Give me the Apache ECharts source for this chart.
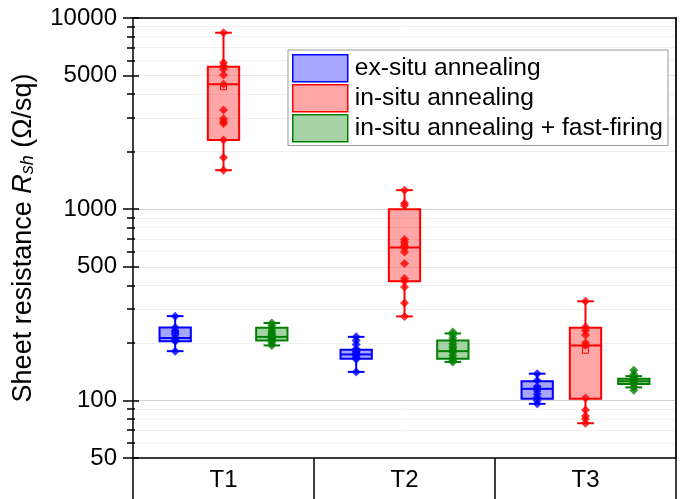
<!DOCTYPE html>
<html><head><meta charset="utf-8">
<script src="https://cdn.jsdelivr.net/npm/echarts@6/dist/echarts.min.js"></script>
<style>html,body{margin:0;padding:0;background:#fff}#c{width:684px;height:499px}</style>
</head><body><div id="c"></div>
<script>
const categories = ['T1', 'T2', 'T3'];
const seriesNames = ['ex-situ annealing', 'in-situ annealing', 'in-situ annealing + fast-firing'];

// box statistics per category: [min, Q1, median, Q3, max]
const exsituBox = [[181, 204, 212, 241, 276], [141, 165, 174, 184, 215], [96, 102, 115, 126, 138]];
const insituBox = [[1600, 2298, 4510, 5560, 8375], [275, 420, 630, 1000, 1258], [76, 102, 194, 240, 330]];
const firingBox = [[194, 206, 215, 240, 254], [159, 165, 181, 206, 224], [117, 122, 126, 130, 134]];

const exsituMean = [225, 180, 115];
const insituMean = [4370, 640, 183];
const firingMean = [222, 190, 127];

// individual measurements per category
const exsituPoints = [
  [276, 241, 231, 223, 212, 207, 204, 181],
  [215, 206, 196, 186, 180, 176, 172, 168, 164, 141],
  [138, 127, 118, 114, 108, 104, 100, 96]
];
const insituPoints = [
  [8375, 5830, 5610, 5390, 5030, 4510, 3300, 2970, 2870, 2810, 2300, 1865, 1600],
  [1258, 1075, 1045, 694, 674, 640, 598, 520, 434, 420, 392, 323, 275],
  [330, 242, 232, 220, 200, 194, 103, 89, 83, 80, 76]
];
const firingPoints = [
  [254, 247, 240, 232, 225, 219, 215, 211, 208, 205, 200, 194],
  [228, 220, 212, 205, 198, 190, 183, 178, 172, 166, 162, 159],
  [144, 137, 133, 130, 127, 125, 122, 118, 113]
];

const yTickLabels = [50, 100, 500, 1000, 5000, 10000];
const yMinorTicks = [60, 70, 80, 90, 200, 300, 400, 600, 700, 800, 900, 2000, 3000, 4000, 6000, 7000, 8000, 9000];

const FONT = '"Liberation Sans", Arial, sans-serif';
const COLORS = ['#0000ff', '#ff0000', '#008000'];
const FILLS = ['rgba(0,0,255,0.35)', 'rgba(255,0,0,0.35)', 'rgba(0,128,0,0.35)'];
const OFFSETS = [-0.267, 0, 0.267];
const BOX_HALF = 0.0865;
const CAP_HALF = 0.046;

const boxes = [exsituBox, insituBox, firingBox];
const means = [exsituMean, insituMean, firingMean];
const points = [exsituPoints, insituPoints, firingPoints];

function boxSeries(k) {
  return {
    type: 'custom', name: seriesNames[k], xAxisIndex: 1, yAxisIndex: 0, z: 3,
    data: boxes[k].map((s, i) => [i].concat(s, [means[k][i]])),
    encode: { x: 0, y: [1, 2, 3, 4, 5] },
    renderItem: function (params, api) {
      const x = api.value(0) + OFFSETS[k];
      const c = COLORS[k];
      const P = v => api.coord([x, v]);
      const pMin = P(api.value(1)), pQ1 = P(api.value(2)), pMed = P(api.value(3)),
            pQ3 = P(api.value(4)), pMax = P(api.value(5)), pMean = P(api.value(6));
      const xl = api.coord([x - BOX_HALF, api.value(3)])[0];
      const xr = api.coord([x + BOX_HALF, api.value(3)])[0];
      const cl = api.coord([x - CAP_HALF, api.value(3)])[0];
      const cr = api.coord([x + CAP_HALF, api.value(3)])[0];
      const xc = pMed[0];
      const ls = { stroke: c, lineWidth: 2 };
      return {
        type: 'group',
        children: [
          { type: 'line', shape: { x1: xc, y1: pQ3[1], x2: xc, y2: pMax[1] }, style: ls },
          { type: 'line', shape: { x1: xc, y1: pQ1[1], x2: xc, y2: pMin[1] }, style: ls },
          { type: 'line', shape: { x1: cl, y1: pMax[1], x2: cr, y2: pMax[1] }, style: ls },
          { type: 'line', shape: { x1: cl, y1: pMin[1], x2: cr, y2: pMin[1] }, style: ls },
          { type: 'rect', shape: { x: xl, y: pQ3[1], width: xr - xl, height: pQ1[1] - pQ3[1] },
            style: { fill: FILLS[k], stroke: c, lineWidth: 2 } },
          { type: 'line', shape: { x1: xl, y1: pMed[1], x2: xr, y2: pMed[1] }, style: ls },
          { type: 'rect', shape: { x: xc - 3, y: pMean[1] - 3, width: 6, height: 6 },
            style: { fill: 'none', stroke: c, lineWidth: 1 } }
        ]
      };
    }
  };
}

function pointSeries(k) {
  const data = [];
  points[k].forEach((arr, i) => arr.forEach(v => data.push([i + OFFSETS[k], v])));
  return {
    type: 'scatter', name: seriesNames[k] + ' points', xAxisIndex: 1, yAxisIndex: 0, z: 4,
    symbol: 'diamond', symbolSize: 9, itemStyle: { color: COLORS[k] }, data: data
  };
}

const logAxisBase = { type: 'log', logBase: 10, min: 50, max: 10000, position: 'left', gridIndex: 0 };
const noLine = { show: false, onZero: false };

const option = {
  animation: false,
  backgroundColor: '#fff',
  textStyle: { fontFamily: FONT },
  grid: { left: 133, right: 8, top: 18, bottom: 41, containLabel: false, outerBoundsMode: 'none' },
  legend: {
    orient: 'vertical', left: 288, top: 50,
    data: seriesNames.map((n, k) => ({ name: n, icon: 'rect',
      itemStyle: { color: FILLS[k], borderColor: COLORS[k], borderWidth: 1.5 } })),
    itemWidth: 55, itemHeight: 27, itemGap: 1.5, padding: [4, 5, 3, 4],
    backgroundColor: '#fff', borderColor: '#999', borderWidth: 1,
    textStyle: { fontSize: 24.6, color: '#000', fontFamily: FONT, padding: [0, 0, 0, 2] },
    selectedMode: false
  },
  xAxis: [
    { type: 'category', data: categories, position: 'bottom', boundaryGap: true,
      axisLine: { onZero: false, lineStyle: { color: '#000', width: 1.5 } },
      axisTick: { show: true, length: 41, interval: 0, lineStyle: { color: '#000', width: 1.5 } },
      axisLabel: { fontSize: 24, color: '#000', margin: 10, interval: 0, fontFamily: FONT },
      splitLine: { show: false } },
    { type: 'value', min: -0.5, max: 2.5, position: 'bottom', show: false, axisLine: noLine },
    { type: 'value', min: -0.5, max: 2.5, position: 'top',
      axisLine: { show: true, onZero: false, lineStyle: { color: '#000', width: 1.5 } },
      axisTick: { show: false }, axisLabel: { show: false }, splitLine: { show: false } }
  ],
  yAxis: [
    Object.assign({}, logAxisBase, {
      name: 'Sheet resistance {it|R}{sub|sh} (Ω/sq)', nameLocation: 'middle', nameRotate: 90, nameGap: 96,
      nameTextStyle: { fontSize: 27, color: '#000', fontFamily: FONT,
        rich: { it: { fontSize: 27, fontStyle: 'italic', color: '#000', fontFamily: FONT },
                sub: { fontSize: 18, fontStyle: 'italic', color: '#000', fontFamily: FONT, verticalAlign: 'bottom', lineHeight: 18 } } },
      axisLine: { show: true, onZero: false, lineStyle: { color: '#000', width: 1.5 } },
      axisTick: { show: true, inside: false, length: 10, customValues: yTickLabels, lineStyle: { color: '#000', width: 1.5 } },
      axisLabel: { fontSize: 24, color: '#000', margin: 16, customValues: yTickLabels, fontFamily: FONT,
        formatter: v => String(Math.round(v)) },
      splitLine: { show: true, lineStyle: { color: ['#e8e8e8', '#d0d0d0'], width: 1 } }
    }),
    Object.assign({}, logAxisBase, {
      axisLine: noLine,
      axisTick: { show: true, inside: true, length: 6, customValues: yTickLabels, lineStyle: { color: '#000', width: 1.5 } },
      axisLabel: { show: false }, splitLine: { show: false }
    }),
    Object.assign({}, logAxisBase, {
      axisLine: noLine,
      axisTick: { show: true, inside: false, length: 6, customValues: yMinorTicks, lineStyle: { color: '#000', width: 1.5 } },
      axisLabel: { show: false },
      splitLine: { show: true, lineStyle: { color: '#f0f0f0', width: 1 } }
    }),
    Object.assign({}, logAxisBase, {
      axisLine: noLine,
      axisTick: { show: true, inside: true, length: 2, customValues: yMinorTicks, lineStyle: { color: '#000', width: 1.5 } },
      axisLabel: { show: false }, splitLine: { show: false }
    }),
    Object.assign({}, logAxisBase, {
      position: 'right',
      axisLine: { show: true, onZero: false, lineStyle: { color: '#222', width: 2 } },
      axisTick: { show: false }, axisLabel: { show: false }, splitLine: { show: false }
    })
  ],
  series: [0, 1, 2].map(boxSeries).concat([0, 1, 2].map(pointSeries))
};

const chart = echarts.init(document.getElementById('c'), null, { renderer: 'canvas' });
chart.setOption(option);
</script>
</body></html>
